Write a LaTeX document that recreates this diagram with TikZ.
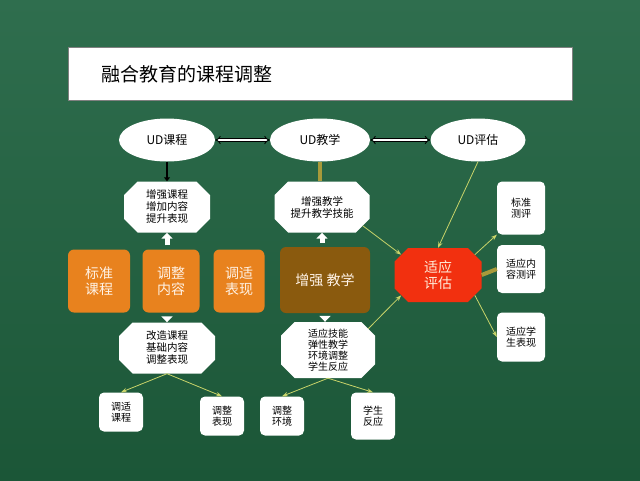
\documentclass[tikz,border=0pt]{standalone}
\usepackage{fontspec}
\setmainfont{Noto Sans CJK SC}
\usetikzlibrary{shapes.geometric,shapes.misc,arrows.meta}
\definecolor{bgtop}{HTML}{2F6E4E}
\definecolor{bgbot}{HTML}{1B5637}
\definecolor{org}{HTML}{E8821E}
\definecolor{brn}{HTML}{8A5A0E}
\definecolor{redc}{HTML}{F2300F}
\definecolor{thin}{HTML}{C9D46A}
\definecolor{tan}{HTML}{A89A3A}
\tikzset{
 ell/.style={ellipse,fill=white,draw=none,minimum width=#1,minimum height=43pt,inner sep=0pt,font=\fontsize{12}{14}\selectfont},
 oct/.style={chamfered rectangle,chamfered rectangle xsep=10pt,fill=white,draw=none,inner sep=0pt,align=center,font=\fontsize{10.5}{12}\selectfont},
 sq/.style={rounded corners=6pt,fill=org,draw=none,inner sep=0pt,align=center,text=white!90!orange,font=\fontsize{14}{16}\selectfont},
 wb/.style={rounded corners=5pt,fill=white,draw=none,inner sep=0pt,align=center,font=\fontsize{10}{11.5}\selectfont},
 fat/.style={draw=white,line width=5pt,-{Triangle[width=11pt,length=6pt]}},
 tarr/.style={draw=thin,line width=0.8pt,-{Stealth[length=6pt,open]}},
 dbl/.style={double=white,draw=black,double distance=2pt,line width=0.8pt,{Implies}-{Implies}}
}
\begin{document}
\begin{tikzpicture}[x=1pt,y=-1pt]
\useasboundingbox (0,0) rectangle (640,480);
\shade[top color=bgtop,bottom color=bgbot] (0,0) rectangle (640,480);
\node[draw=gray,fill=white,line width=1pt,minimum width=504pt,minimum height=53pt,anchor=north west,inner sep=0pt] (title) at (68,47) {};
\node[anchor=west,font=\fontsize{19}{22}\selectfont] (tt) at (98,74) {融合教育的课程调整};
% ellipses
\node[ell=96pt] (udk) at (167,140) {UD课程};
\node[ell=100pt] (udj) at (320,140) {UD教学};
\node[ell=95pt] (udp) at (478,140) {UD评估};
% octagons
\node[oct,minimum width=86pt,minimum height=51pt] (zk) at (167,207) {增强课程\\增加内容\\提升表现};
\node[oct,minimum width=95pt,minimum height=51pt] (zj) at (322,207) {增强教学\\提升教学技能};
\node[oct,minimum width=96pt,minimum height=51pt] (gz) at (167,348) {改造课程\\基础内容\\调整表现};
\node[oct,minimum width=94pt,minimum height=56pt,font=\fontsize{10}{11}\selectfont] (sy) at (328,350) {适应技能\\弹性教学\\环境调整\\学生反应};
% squares
\node[sq,minimum width=62pt,minimum height=63pt] (bz) at (99,281) {标准\\课程};
\node[sq,minimum width=57pt,minimum height=63pt] (tn) at (171,281) {调整\\内容};
\node[sq,minimum width=51pt,minimum height=63pt] (tb) at (239,281) {调适\\表现};
\node[sq,fill=brn,minimum width=90pt,minimum height=66pt] (zq) at (325,280) {增强 教学};
\node[oct,fill=redc,text=white!85!orange,minimum width=87pt,minimum height=54pt,font=\fontsize{14}{16}\selectfont] (sp) at (438,275) {适应\\评估};
% right boxes
\node[wb,minimum width=48pt,minimum height=53pt] (r1) at (521,208) {标准\\测评};
\node[wb,minimum width=48pt,minimum height=48pt] (r2) at (521,269) {适应内\\容测评};
\node[wb,minimum width=48pt,minimum height=49pt] (r3) at (521,337) {适应学\\生表现};
% bottom boxes
\node[wb,minimum width=44pt,minimum height=39pt] (b1) at (121,412) {调适\\课程};
\node[wb,minimum width=44pt,minimum height=39pt] (b2) at (222,416) {调整\\表现};
\node[wb,minimum width=44pt,minimum height=39pt] (b3) at (282,416) {调整\\环境};
\node[wb,minimum width=44pt,minimum height=47pt] (b4) at (373,416) {学生\\反应};
% connectors
\draw[dbl] (udk.east) -- (udj.west);
\draw[dbl] (udj.east) -- (udp.west);
\draw[line width=2.5pt,-{Triangle[width=6pt,length=4pt]}] (udk.south) -- (zk.north);
\draw[draw=tan,line width=4pt] (udj.south) -- (zj.north -| udj.south);
\draw[fat] ([yshift=4pt]tn.north -| zk.south) -- (zk.south);
\draw[fat] ([yshift=-4pt]tn.south -| gz.north) -- (gz.north);
\draw[fat] ([yshift=4pt]zq.north -| zj.south) -- (zj.south);
\draw[fat] ([yshift=-4pt]zq.south) -- (sy.north -| zq.south);
\draw[tarr] (zj.south east) -- (sp.north west);
\draw[tarr] (udp.south) -- (sp.north);
\draw[tarr] (sy.north east) -- (sp.south west);
\draw[tarr] (sp.north east) -- (r1.south west);
\draw[draw=tan,line width=4pt] (sp.east) -- (r2.west);
\draw[tarr] (sp.south east) -- (r3.west);
\draw[tarr] (gz.south) -- (b1.north);
\draw[tarr] (gz.south) -- (b2.north);
\draw[tarr] (sy.south) -- (b3.north);
\draw[tarr] (sy.south) -- (b4.north);
\end{tikzpicture}
\end{document}
